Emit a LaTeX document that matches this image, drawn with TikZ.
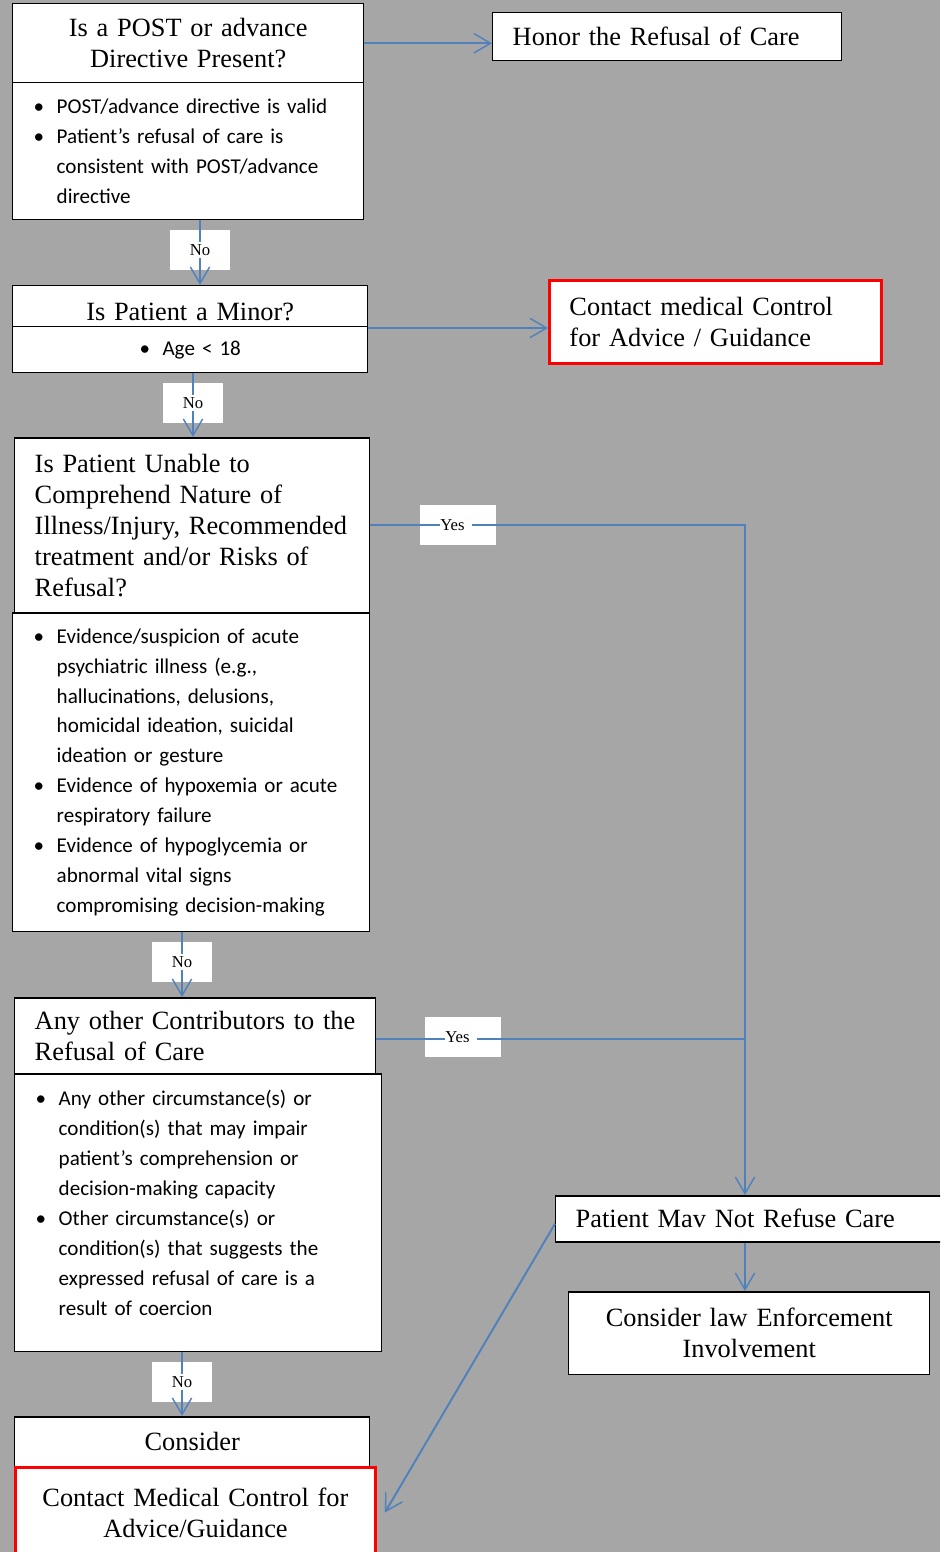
\documentclass[tikz,border=0pt]{standalone}
\usepackage{fontspec}
\setmainfont{Liberation Serif}
\newfontfamily\calfont{Carlito}
\usetikzlibrary{arrows.meta, positioning, calc}

\definecolor{bggray}{RGB}{166,166,166}
\definecolor{flowblue}{RGB}{79,129,189}

\newcommand{\pad}{\hspace*{0.4cm}}
\newcommand{\bitem}{\hspace*{0.42cm}\makebox[0.46cm][l]{\textbullet}}
\newcommand{\bcont}{\hspace*{0.88cm}}

\tikzset{
    box/.style 2 args={draw=black, line width=0.85pt, fill=white, anchor=north west, inner sep=0pt, text width=#1, minimum width=#1, minimum height=#2},
    ttl/.style={font=\fontsize{15}{17.6}\selectfont},
    blist/.style={align=left, font=\calfont\fontsize{12}{17}\selectfont},
    redbox/.style={draw=red, line width=1.7pt},
    lblbox/.style={fill=white, minimum width=#1, minimum height=0.8cm, inner sep=0pt},
    lbl/.style={fill=white, inner sep=1.2pt, font=\fontsize{9.5}{11}\selectfont},
    flow/.style={draw=flowblue, line width=1.1pt, -{Straight Barb[length=9.5pt, width=11pt, line width=0.8pt]}},
    link/.style={draw=flowblue, line width=1.1pt}
}

\begin{document}
\begin{tikzpicture}[x=0.02cm, y=-0.02cm]
    % Page & background
    \useasboundingbox (0,0) rectangle (940,1552);
    \clip (0,0) rectangle (940,1552);
    \fill[bggray] (0,0) rectangle (940,1552);

    % POST / advance directive
    \node[box={7.02cm}{1.58cm}, ttl, align=center] (postq) at (12,3) {Is a POST or advance\\Directive Present?};
    \node[box={7.02cm}{2.74cm}, blist] (postb) at (12,82) {\bitem POST/advance directive is valid\\
        \bitem Patient’s refusal of care is\\
        \bcont consistent with POST/advance\\
        \bcont directive};
    \node[box={6.98cm}{0.96cm}, ttl, align=left] (honor) at (492,12) {\pad Honor the Refusal of Care};

    % Minor
    \node[box={7.10cm}{0.82cm}, ttl, align=center, text height=16pt, text depth=0pt] (minorq) at (12,285) {Is Patient a Minor?};
    \node[box={7.10cm}{0.92cm}, blist, align=center] (minorb) at (12,326) {\makebox[0.46cm][l]{\textbullet}Age < 18};
    \node[box={6.64cm}{1.66cm}, redbox, ttl, align=left] (mc1) at (548,279) {\pad Contact medical Control\\ \pad for Advice / Guidance};

    % Unable to comprehend
    \node[box={7.10cm}{3.50cm}, ttl, align=left] (unableq) at (14,437) {\pad Is Patient Unable to\\
        \pad Comprehend Nature of\\
        \pad Illness/Injury, Recommended\\
        \pad treatment and/or Risks of\\
        \pad Refusal?};
    \node[box={7.14cm}{6.38cm}, blist] (unableb) at (12,612) {\bitem Evidence/suspicion of acute\\
        \bcont psychiatric illness (e.g.,\\
        \bcont hallucinations, delusions,\\
        \bcont homicidal ideation, suicidal\\
        \bcont ideation or gesture\\
        \bitem Evidence of hypoxemia or acute\\
        \bcont respiratory failure\\
        \bitem Evidence of hypoglycemia or\\
        \bcont abnormal vital signs\\
        \bcont compromising decision-making};

    % Other contributors
    \node[box={7.22cm}{1.52cm}, ttl, align=left] (otherq) at (14,997) {\pad Any other Contributors to the\\ \pad Refusal of Care};
    \node[box={7.34cm}{5.56cm}, blist] (otherb) at (14,1073) {\bitem Any other circumstance(s) or\\
        \bcont condition(s) that may impair\\
        \bcont patient’s comprehension or\\
        \bcont decision-making capacity\\
        \bitem Other circumstance(s) or\\
        \bcont condition(s) that suggests the\\
        \bcont expressed refusal of care is a\\
        \bcont result of coercion\\[-0.2cm]\mbox{}};

    % Consider / medical control
    \node[box={7.10cm}{1.00cm}, ttl, align=center] (consider) at (14,1416) {Consider};
    \node[box={7.20cm}{1.80cm}, redbox, ttl, align=center] (mc2) at (14,1466) {Contact Medical Control for\\Advice/Guidance};

    % May not refuse
    \node[box={8.00cm}{0.92cm}, ttl, align=left] (pmnr) at (555,1195) {\pad Patient Mav Not Refuse Care};
    \node[box={7.22cm}{1.66cm}, ttl, align=center] (law) at (568,1291) {Consider law Enforcement\\Involvement};

    % Label boxes
    \node[lblbox=1.2cm] (nobox1) at (200,250) {};
    \node[lblbox=1.2cm] (nobox2) at (193,403) {};
    \node[lblbox=1.2cm] (nobox3) at (182,962) {};
    \node[lblbox=1.2cm] (nobox4) at (182,1382) {};
    \node[lblbox=1.52cm] (yesbox1) at (458,525) {};
    \node[lblbox=1.52cm] (yesbox2) at (463,1037) {};

    % Connectors
    \coordinate (join) at (745,525);
    \draw[flow] (postq.east) -- (postq.east -| honor.west);
    \draw[flow] (postb.south -| nobox1) -- (minorq.north -| nobox1);
    \draw[flow] ([yshift=-0.01cm]minorq.south east) -- ([yshift=-0.01cm]minorq.south east -| mc1.west);
    \draw[flow] (minorb.south -| nobox2) -- (unableq.north -| nobox2);
    \draw[flow] (unableq.east) -- (unableq.east -| join) -- (join |- pmnr.north);
    \draw[flow] (unableb.south -| nobox3) -- (otherq.north -| nobox3);
    \draw[link] ([yshift=-0.06cm]otherq.east) -- ([yshift=-0.06cm]otherq.east -| join);
    \draw[flow] (otherb.south -| nobox4) -- (consider.north -| nobox4);
    \draw[flow] (join |- pmnr.south) -- (join |- law.north);
    \draw[flow] ([yshift=-0.1cm]pmnr.west) -- ([xshift=0.16cm]mc2.east);

    % Labels
    \node[lbl] (no1) at (nobox1) {No};
    \node[lbl] (no2) at (nobox2) {No};
    \node[lbl] (no3) at (nobox3) {No};
    \node[lbl] (no4) at (nobox4) {No};
    \node[lbl, inner xsep=0pt] (yes1) at (456,525) {Yes\kern4pt};
    \node[lbl, inner xsep=0pt] (yes2) at (461,1037) {Yes\kern4pt};
\end{tikzpicture}
\end{document}
